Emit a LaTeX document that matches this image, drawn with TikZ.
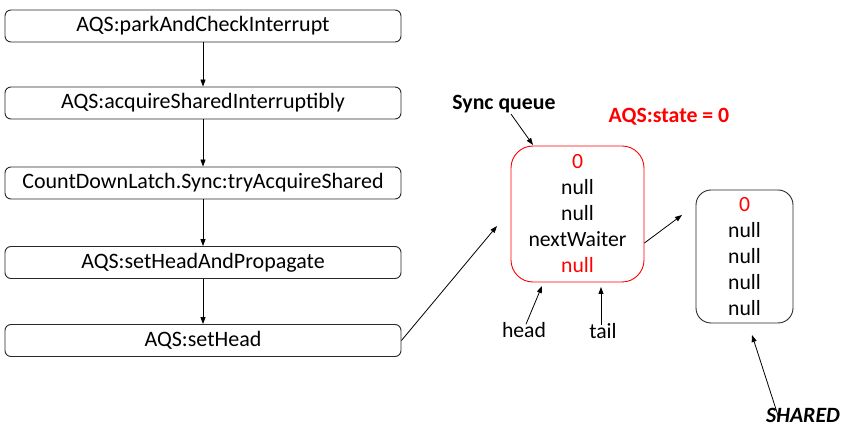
\documentclass[tikz,border=0pt]{standalone}
\usepackage{fontspec}
\setmainfont{Carlito}
\usetikzlibrary{arrows.meta}
\definecolor{qred}{RGB}{255,0,0}
\definecolor{boxgray}{RGB}{40,40,40}
\tikzset{
  fn/.style={draw=boxgray, line width=0.9pt, rounded corners=6pt, minimum width=396pt, minimum height=32pt, inner sep=0pt, font=\fontsize{22}{26}\selectfont},
  qbox/.style={line width=0.9pt, inner sep=0pt, align=center, font=\fontsize{21.7}{26}\selectfont},
  lbl/.style={inner sep=1pt, font=\fontsize{21.7}{25}\selectfont},
  blbl/.style={inner sep=1pt, font=\fontsize{21.8}{25}\selectfont\bfseries},
  arr/.style={line width=0.8pt, -{Triangle[length=7pt,width=5pt]}}
}
\begin{document}
\begin{tikzpicture}[x=1pt,y=-1pt]
\useasboundingbox (0,0) rectangle (847,438);
% left call chain
\node[fn] (b1) at (203,26) {AQS:parkAndCheckInterrupt};
\node[fn] (b2) at (203,103) {AQS:acquireSharedInterruptibly};
\node[fn] (b3) at (203,183) {CountDownLatch.Sync:tryAcquireShared};
\node[fn] (b4) at (203,262.5) {AQS:setHeadAndPropagate};
\node[fn] (b5) at (203,340.5) {AQS:setHead};
\draw[arr] (b1) -- (b2);
\draw[arr] (b2) -- (b3);
\draw[arr] (b3) -- (b4);
\draw[arr] (b4) -- (b5);
% queue nodes
\node[qbox, draw=qred, rounded corners=22pt, minimum width=133pt, minimum height=136pt] (q1) at (577.5,214)
  {\textcolor{qred}{0}\\null\\null\\nextWaiter\\\textcolor{qred}{null}};
\node[qbox, draw=boxgray, rounded corners=15pt, minimum width=97pt, minimum height=133pt] (q2) at (744.5,256.5)
  {\textcolor{qred}{0}\\null\\null\\null\\null};
% labels
\node[blbl] (sq) at (504,104) {Sync queue};
\node[blbl, text=qred] (st) at (669,117) {AQS:state = 0};
\node[lbl] (hd) at (524,330) {head};
\node[lbl] (tl) at (603,331) {tail};
\node[blbl, font=\fontsize{21.8}{25}\selectfont\bfseries\itshape] (sh) at (803,415) {SHARED};
% free ends
\coordinate (e1) at (497,226);
\coordinate (e2) at (682,215);
\coordinate (e3) at (533,145);
\coordinate (e4) at (542,286);
\coordinate (e5) at (601,287);
\coordinate (e6) at (752,335);
% connectors
\draw[arr] (b5.east) -- (e1);
\draw[arr] ([yshift=-29pt]q1.east) -- (e2);
\draw[arr] ([xshift=7pt]sq.south) -- (e3);
\draw[arr] ([xshift=2pt,yshift=-3pt]hd.north) -- (e4);
\draw[arr] ([xshift=-2pt,yshift=-3pt]tl.north) -- (e5);
\draw[arr] ([xshift=-24pt,yshift=-12pt]sh.north) -- (e6);
\end{tikzpicture}
\end{document}
